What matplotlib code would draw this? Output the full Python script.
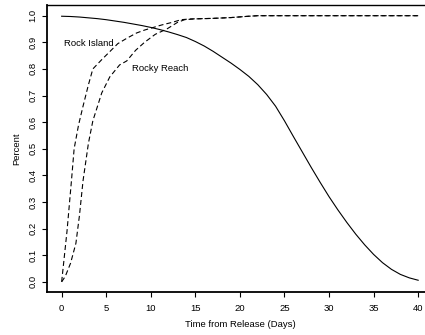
import matplotlib

matplotlib.use("Agg")
import matplotlib.pyplot as plt

plt.rcParams["font.family"] = ["Liberation Sans", "DejaVu Sans"]

# Survival curve (solid), one value per day
surv_days = list(range(0, 41))
surv_pct = [0.998, 0.997, 0.995, 0.992, 0.989, 0.985, 0.980, 0.975, 0.969, 0.963,
            0.956, 0.948, 0.939, 0.929, 0.918, 0.903, 0.886, 0.866, 0.844, 0.822,
            0.798, 0.772, 0.741, 0.704, 0.660, 0.605, 0.546, 0.488, 0.430, 0.374,
            0.320, 0.270, 0.223, 0.179, 0.139, 0.103, 0.072, 0.047, 0.028, 0.015,
            0.006]

# Cumulative arrival, Rock Island (dashed)
ri_days = [0, 0.6, 1.1, 1.4, 1.9, 2.4, 3.0, 3.5, 4.5, 5.4, 6.3, 7.3, 8.4, 9.3,
           10.6, 11.2, 12.4, 13.4, 14.5, 17, 19, 21, 22, 40]
ri_pct = [0, 0.19, 0.38, 0.50, 0.59, 0.66, 0.74, 0.80, 0.835, 0.865, 0.895, 0.915,
          0.935, 0.946, 0.959, 0.965, 0.975, 0.985, 0.988, 0.99, 0.993, 0.998, 1.0, 1.0]

# Cumulative arrival, Rocky Reach (dashed)
rr_days = [0, 0.4, 1.0, 1.6, 2.0, 2.4, 3.0, 3.5, 4.5, 5.4, 6.5, 7.3, 8.3, 9.3,
           10.5, 11.8, 13.0, 13.8, 15, 17, 19, 21, 22, 40]
rr_pct = [0, 0.02, 0.07, 0.145, 0.25, 0.38, 0.52, 0.605, 0.71, 0.77, 0.815, 0.83,
          0.87, 0.90, 0.93, 0.95, 0.975, 0.985, 0.988, 0.99, 0.993, 0.998, 1.0, 1.0]

x_ticks = list(range(0, 41, 5))
y_ticks = [i / 10 for i in range(11)]

fig = plt.figure(figsize=(4.25, 3.35), dpi=100)
ax = fig.add_axes([0.1115, 0.1269, 0.906, 0.858])

ax.plot(surv_days, surv_pct, color="black", linewidth=0.8)
ax.plot(ri_days, ri_pct, color="black", linewidth=0.8, dashes=(4.5, 2.7))
ax.plot(rr_days, rr_pct, color="black", linewidth=0.8, dashes=(4.5, 2.7))

ax.text(3.0, 0.896, "Rock Island", fontsize=6.8, ha="center", va="center")
ax.text(11.1, 0.802, "Rocky Reach", fontsize=6.8, ha="center", va="center")

ax.set_xlim(-1.6, 41.6)
ax.set_ylim(-0.04, 1.04)
ax.set_xticks(x_ticks)
ax.set_yticks(y_ticks)
ax.set_yticklabels([f"{v:.1f}" for v in y_ticks], rotation=90, va="center")
ax.tick_params(axis="both", labelsize=6.8, length=3.6, width=0.8)
ax.tick_params(axis="x", pad=4.5)
ax.tick_params(axis="y", pad=3.5)
for spine in ax.spines.values():
    spine.set_linewidth(1.0)
ax.spines["left"].set_linewidth(1.3)
ax.spines["bottom"].set_linewidth(1.3)

ax.set_xlabel("Time from Release (Days)", fontsize=6.8, labelpad=5)
ax.set_ylabel("Percent", fontsize=6.8, labelpad=5)

fig.savefig("out.png", dpi=100)
plt.close(fig)
